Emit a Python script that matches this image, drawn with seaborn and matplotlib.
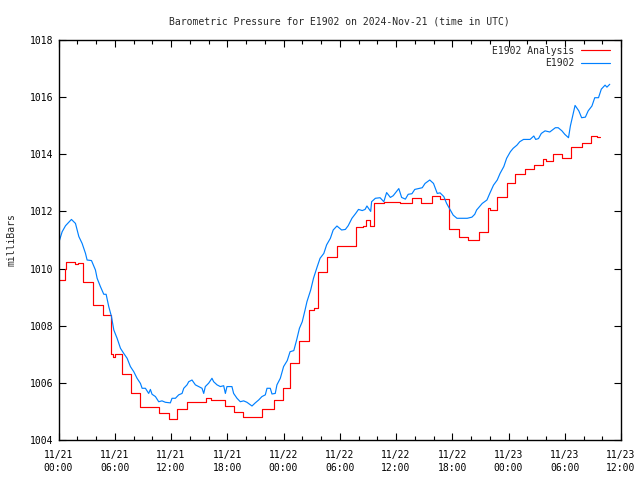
import numpy as np
import pandas as pd
import seaborn as sns
import matplotlib
matplotlib.use("Agg")
import matplotlib.pyplot as plt
from matplotlib.ticker import MultipleLocator

# ---- data (hours since 2024-11-21 00:00 UTC, pressure in mbar) ----
blue_hours = [0.0, 0.04, 0.39, 0.75, 1.38, 1.81, 2.17, 2.52, 2.88, 3.05, 3.52, 3.94, 4.12, 4.47,
              4.83, 5.08, 5.36, 5.65, 5.9, 6.25, 6.61, 6.96, 7.32, 7.67, 8.03, 8.38, 8.74, 8.92,
              9.27, 9.62, 9.8, 9.98, 10.34, 10.69, 11.04, 11.4, 11.93, 12.11, 12.47, 12.82, 13.18,
              13.36, 13.71, 13.89, 14.24, 14.6, 14.95, 15.31, 15.49, 15.66, 16.02, 16.37, 16.55,
              16.91, 17.26, 17.62, 17.8, 17.97, 18.5, 18.68, 19.04, 19.39, 19.75, 20.1, 20.64,
              20.99, 21.35, 21.7, 22.06, 22.24, 22.59, 22.77, 23.12, 23.3, 23.66, 24.01, 24.4,
              24.7, 25.1, 25.4, 25.7, 26.0, 26.3, 26.5, 26.9, 27.2, 27.6, 27.9, 28.3, 28.6, 29.0,
              29.3, 29.7, 30.2, 30.6, 30.9, 31.3, 31.7, 32.0, 32.4, 32.7, 32.9, 33.3, 33.4, 33.8,
              34.3, 34.7, 35.0, 35.4, 35.7, 36.3, 36.6, 37.0, 37.3, 37.7, 38.0, 38.4, 38.8, 39.1,
              39.6, 40.0, 40.4, 40.7, 41.1, 41.4, 41.8, 42.1, 42.5, 43.0, 43.6, 44.1, 44.4, 44.6,
              45.2, 45.7, 46.0, 46.4, 46.8, 47.1, 47.5, 47.8, 48.2, 48.5, 48.9, 49.2, 49.6, 50.3,
              50.7, 50.9, 51.2, 51.5, 51.9, 52.4, 53.0, 53.3, 53.7, 54.0, 54.4, 54.6, 54.8, 55.1,
              55.5, 55.8, 56.2, 56.5, 56.9, 57.2, 57.6, 57.9, 58.3, 58.5, 58.8]
blue_values = [1010.90, 1010.92, 1011.29, 1011.50, 1011.72, 1011.58, 1011.12, 1010.88, 1010.53,
               1010.30, 1010.28, 1009.95, 1009.66, 1009.37, 1009.10, 1009.10, 1008.67, 1008.32,
               1007.85, 1007.56, 1007.21, 1007.03, 1006.86, 1006.57, 1006.39, 1006.16, 1005.98,
               1005.81, 1005.81, 1005.63, 1005.77, 1005.60, 1005.52, 1005.34, 1005.37, 1005.32,
               1005.30, 1005.46, 1005.46, 1005.58, 1005.63, 1005.81, 1005.93, 1006.04, 1006.10,
               1005.93, 1005.87, 1005.81, 1005.63, 1005.87, 1005.99, 1006.16, 1006.04, 1005.93,
               1005.87, 1005.90, 1005.63, 1005.87, 1005.87, 1005.63, 1005.46, 1005.34, 1005.37,
               1005.32, 1005.19, 1005.30, 1005.40, 1005.52, 1005.58, 1005.81, 1005.81, 1005.61,
               1005.63, 1005.93, 1006.16, 1006.57, 1006.78, 1007.09, 1007.13, 1007.50, 1007.91,
               1008.14, 1008.55, 1008.84, 1009.25, 1009.66, 1010.07, 1010.36, 1010.53, 1010.83,
               1011.06, 1011.35, 1011.49, 1011.35, 1011.37, 1011.50, 1011.76, 1011.93, 1012.07,
               1012.03, 1012.07, 1012.19, 1012.00, 1012.34, 1012.46, 1012.48, 1012.34, 1012.66,
               1012.49, 1012.55, 1012.80, 1012.49, 1012.43, 1012.60, 1012.62, 1012.77, 1012.80,
               1012.83, 1012.98, 1013.10, 1012.98, 1012.63, 1012.65, 1012.52, 1012.28, 1012.05,
               1011.87, 1011.76, 1011.76, 1011.76, 1011.80, 1011.90, 1012.05, 1012.28, 1012.40,
               1012.63, 1012.92, 1013.10, 1013.33, 1013.57, 1013.86, 1014.09, 1014.21, 1014.32,
               1014.44, 1014.52, 1014.52, 1014.64, 1014.52, 1014.55, 1014.73, 1014.82, 1014.78,
               1014.93, 1014.93, 1014.82, 1014.70, 1014.58, 1014.99, 1015.28, 1015.71, 1015.52,
               1015.28, 1015.30, 1015.52, 1015.69, 1015.98, 1015.98, 1016.28, 1016.42, 1016.35,
               1016.45]

red_hours = [0.0, 0.67, 0.82, 1.81, 2.06, 2.66, 3.66, 4.72, 5.65, 5.79, 6.07, 6.78, 7.74, 8.74,
             10.76, 11.76, 12.68, 13.75, 15.77, 16.23, 17.72, 18.72, 19.71, 21.70, 23.0, 23.9,
             24.69, 25.66, 26.7, 26.75, 27.2, 27.7, 28.6, 29.7, 31.75, 32.5, 32.8, 33.2, 33.66,
             34.7, 36.4, 37.7, 38.65, 39.8, 40.7, 41.6, 42.7, 43.7, 44.8, 45.8, 46.0, 46.75,
             47.8, 48.7, 49.8, 50.7, 51.7, 52.0, 52.7, 53.7, 54.7, 55.8, 56.8, 57.4, 57.8]
red_values = [1009.60, 1009.97, 1010.22, 1010.15, 1010.19, 1009.52, 1008.71, 1008.36, 1007.01,
              1006.90, 1007.01, 1006.31, 1005.66, 1005.14, 1004.93, 1004.73, 1005.10, 1005.32,
              1005.46, 1005.41, 1005.19, 1004.97, 1004.79, 1005.10, 1005.41, 1005.81, 1006.68,
              1007.45, 1008.20, 1008.55, 1008.63, 1009.89, 1010.42, 1010.79, 1011.44, 1011.50,
              1011.69, 1011.50, 1012.28, 1012.32, 1012.30, 1012.46, 1012.28, 1012.54, 1012.42,
              1011.37, 1011.09, 1011.00, 1011.27, 1012.11, 1012.05, 1012.52, 1013.00, 1013.31,
              1013.47, 1013.62, 1013.82, 1013.77, 1014.00, 1013.88, 1014.26, 1014.38, 1014.64,
              1014.60, 1014.60]

x_ticks = [0, 6, 12, 18, 24, 30, 36, 42, 48, 54, 60]
x_tick_labels = ["11/21\n00:00", "11/21\n06:00", "11/21\n12:00", "11/21\n18:00",
                 "11/22\n00:00", "11/22\n06:00", "11/22\n12:00", "11/22\n18:00",
                 "11/23\n00:00", "11/23\n06:00", "11/23\n12:00"]
y_ticks = [1004, 1006, 1008, 1010, 1012, 1014, 1016, 1018]

sns.set_theme(style="ticks")
plt.rcParams['font.family'] = ['DejaVu Sans Mono']
plt.rcParams['font.size'] = 7

df_red = pd.DataFrame({"hours": red_hours, "mbar": red_values})
df_blue = pd.DataFrame({"hours": blue_hours, "mbar": blue_values})

fig = plt.figure(figsize=(6.4, 4.8), dpi=100)
ax = fig.add_axes([58.5 / 640, 1 - 440 / 480, (621 - 58.5) / 640, 400 / 480])

sns.lineplot(data=df_red, x="hours", y="mbar", ax=ax, color="#ff0000", lw=0.85,
             drawstyle="steps-post", label="E1902 Analysis")
sns.lineplot(data=df_blue, x="hours", y="mbar", ax=ax, color="#0080ff", lw=0.85,
             label="E1902")

ax.set_xlim(0, 60)
ax.set_ylim(1004, 1018)
ax.set_xticks(x_ticks)
ax.set_xticklabels(x_tick_labels, linespacing=1.45)
ax.set_yticks(y_ticks)
ax.xaxis.set_minor_locator(MultipleLocator(2))
ax.tick_params(which="both", direction="in", top=True, right=True, labelsize=7,
               colors="black")
ax.tick_params(which="major", length=5, width=0.8)
ax.tick_params(which="minor", length=3, width=0.8)
ax.tick_params(axis="x", which="major", pad=7)
ax.tick_params(axis="y", which="minor", left=False, right=False)
for s in ax.spines.values():
    s.set_visible(True)
    s.set_linewidth(1.0)
    s.set_color("black")

ax.set_xlabel("")
ax.set_ylabel("milliBars", fontsize=7, labelpad=10)
ax.set_title("Barometric Pressure for E1902 on 2024-Nov-21 (time in UTC)", fontsize=7, pad=11)

leg = ax.legend(loc="upper right", bbox_to_anchor=(0.9865, 0.995), frameon=False,
                markerfirst=False, fontsize=7, handlelength=2.9, borderaxespad=0.0,
                labelspacing=0.25, handletextpad=0.7)

fig.savefig("out.png", dpi=100)
